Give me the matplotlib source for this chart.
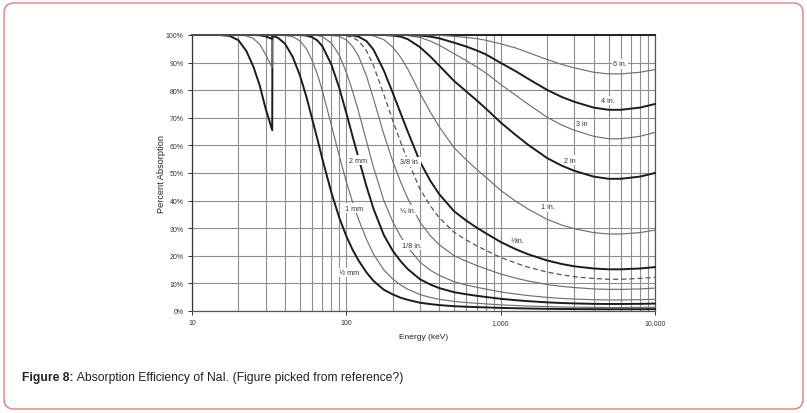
import matplotlib
matplotlib.use("Agg")
import matplotlib.pyplot as plt
from matplotlib.patches import FancyBboxPatch
from matplotlib.ticker import FixedLocator, NullFormatter

plt.rcParams['font.family'] = ['Liberation Sans', 'DejaVu Sans']

# ---------------- data ----------------
energy_kev = [10, 15, 17.5, 20, 22.5, 25, 27.5, 30, 33.1, 33.2, 36, 40, 45, 50, 55, 60,
              65, 70, 80, 90, 100, 110, 120, 135, 150, 175, 200, 225, 250, 300, 350,
              400, 500, 600, 700, 800, 1000, 1250, 1500, 2000, 2500, 3000, 4000, 5000,
              6000, 8000, 10000]

abs_half_mm = [100, 100, 99.7, 98.1, 94.2, 88.5, 81.6, 73.3, 65.5, 99.7, 99.0, 96.9, 92.0,
               85.4, 77.8, 69.7, 62.2, 55.0, 42.9, 33.8, 27.1, 22.1, 18.3, 14.0, 10.9, 7.7,
               6.0, 4.8, 4.05, 3.0, 2.5, 2.14, 1.74, 1.55, 1.41, 1.30, 1.12, 1.0, 0.9, 0.79,
               0.73, 0.70, 0.65, 0.64, 0.64, 0.65, 0.68]
abs_1mm = [100, 100, 100, 100, 99.7, 98.7, 96.6, 92.9, 88.1, 100, 100, 99.9, 99.4, 97.9,
           95.1, 90.8, 85.7, 79.7, 67.3, 56.2, 46.8, 39.3, 33.2, 26.0, 20.6, 14.9, 11.6, 9.4,
           7.9, 5.95, 4.9, 4.24, 3.46, 3.07, 2.79, 2.58, 2.23, 1.98, 1.80, 1.58, 1.46, 1.39,
           1.31, 1.28, 1.28, 1.31, 1.36]
abs_2mm = [100, 100, 100, 100, 100, 100, 99.9, 99.5, 98.6, 100, 100, 100, 100, 100, 99.8,
           99.2, 98.0, 95.9, 89.3, 80.8, 71.7, 63.1, 55.4, 45.2, 37.0, 27.5, 21.8, 18.0, 15.2,
           11.5, 9.6, 8.3, 6.8, 6.05, 5.5, 5.09, 4.42, 3.92, 3.57, 3.13, 2.89, 2.75, 2.59,
           2.54, 2.54, 2.59, 2.69]
abs_eighth_in = [100, 100, 100, 100, 100, 100, 100, 100, 99.9, 100, 100, 100, 100, 100, 100,
                 100, 99.8, 99.4, 97.1, 92.7, 86.5, 79.5, 72.3, 61.6, 52.0, 40.0, 32.3, 27.0,
                 23.1, 17.7, 14.8, 12.9, 10.6, 9.4, 8.6, 7.95, 6.9, 6.15, 5.6, 4.92, 4.55,
                 4.33, 4.09, 4.0, 4.0, 4.09, 4.24]
abs_quarter_in = [100] * 18 + [99.9, 99.5, 98.2, 95.8, 92.3, 85.2, 76.9, 64.0, 54.2, 46.7,
                               40.8, 32.2, 27.3, 24.0, 20.0, 18.0, 16.5, 15.3, 13.4, 11.9,
                               10.9, 9.6, 8.9, 8.5, 8.0, 7.84, 7.84, 8.0, 8.3]
abs_3_8_in = [100] * 20 + [99.8, 99.1, 97.9, 94.3, 88.9, 78.4, 69.0, 61.1, 54.5, 44.2, 38.1,
                           33.8, 28.5, 25.7, 23.6, 22.0, 19.4, 17.4, 15.9, 14.1, 13.1, 12.4,
                           11.8, 11.5, 11.5, 11.8, 12.2]
abs_half_in = [100] * 21 + [99.8, 99.4, 97.8, 94.7, 87.1, 79.0, 71.6, 65.0, 54.1, 47.2, 42.3,
                            36.1, 32.7, 30.2, 28.2, 25.0, 22.4, 20.6, 18.3, 17.0, 16.2, 15.4,
                            15.1, 15.1, 15.4, 15.9]
abs_1in = [100] * 24 + [99.7, 98.3, 95.6, 91.9, 87.7, 78.9, 72.1, 66.7, 59.1, 54.7, 51.3,
                        48.5, 43.7, 39.8, 37.0, 33.2, 31.1, 29.8, 28.4, 27.9, 27.9, 28.4, 29.3]
abs_2in = [100] * 26 + [99.8, 99.4, 98.5, 95.6, 92.2, 88.9, 83.3, 79.5, 76.3, 73.4, 68.3,
                        63.8, 60.3, 55.4, 52.6, 50.8, 48.7, 47.9, 47.9, 48.7, 50.0]
abs_3in = [100] * 28 + [99.8, 99.1, 97.8, 96.3, 93.2, 90.7, 88.4, 86.3, 82.1, 78.2, 75.0,
                        70.2, 67.3, 65.5, 63.3, 62.4, 62.4, 63.3, 64.7]
abs_4in = [100] * 29 + [99.8, 99.4, 98.8, 97.2, 95.8, 94.4, 93.0, 89.9, 86.9, 84.2, 80.1,
                        77.5, 75.8, 73.7, 72.9, 72.9, 73.7, 75.0]
abs_6in = [100] * 31 + [99.9, 99.5, 99.1, 98.7, 98.1, 96.8, 95.3, 93.7, 91.1, 89.3, 88.1,
                        86.5, 85.9, 85.9, 86.5, 87.5]

label_text = ["6 in.", "4 in.", "3 in", "2 in", "1 in.", "½in.", "2 mm", "3/8 in.",
              "1 mm", "¼ in.", "1/8 in.", "½ mm"]
label_energy = [5930, 4970, 3365, 2810, 2030, 1295, 119, 258, 112, 251, 266, 104]
label_pct = [89.5, 76.4, 67.8, 54.7, 37.7, 25.7, 54.7, 54.0, 37.3, 36.6, 23.9, 14.1]

y_ticks = [0, 10, 20, 30, 40, 50, 60, 70, 80, 90, 100]
x_major = [10, 100, 1000, 10000]
x_major_labels = ["10", "100", "1,000", "10,000"]
caption_bold = "Figure 8:"
caption_rest = " Absorption Efficiency of NaI. (Figure picked from reference?)"

# ---------------- figure ----------------
W, H = 807, 414
fig = plt.figure(figsize=(W / 100, H / 100), dpi=100)
fig.patch.set_facecolor('white')

# rounded red border
bg = fig.add_axes([0, 0, 1, 1])
bg.set_xlim(0, W)
bg.set_ylim(H, 0)
bg.axis('off')
bg.add_patch(FancyBboxPatch((4, 4), W - 8, H - 8,
                            boxstyle="round,pad=0,rounding_size=10",
                            facecolor='white', edgecolor='#e57d7d', lw=1.0))

ax = fig.add_axes([192 / W, 1 - 312 / H, (655 - 192) / W, (312 - 36) / H])
ax.set_xscale('log')
ax.set_xlim(10, 10000)
ax.set_ylim(0, 100)

minor = [m * d for d in (10, 100, 1000) for m in range(2, 10)]
ax.xaxis.set_major_locator(FixedLocator(x_major))
ax.xaxis.set_minor_locator(FixedLocator(minor))
ax.xaxis.set_minor_formatter(NullFormatter())
ax.set_xticklabels(x_major_labels)
ax.set_yticks(y_ticks)
ax.set_yticklabels([f"{v}%" for v in y_ticks])

grid_kw = dict(color='#8e8e8e', lw=0.8)
ax.grid(which='both', axis='x', **grid_kw)
ax.grid(which='major', axis='y', **grid_kw)
ax.set_axisbelow(True)

ax.tick_params(axis='both', which='both', labelsize=5, colors='#333333',
               length=3, width=0.7, pad=3)
ax.tick_params(axis='x', which='minor', length=0)
for s in ax.spines.values():
    s.set_color('#555555')
    s.set_linewidth(0.9)
ax.spines['top'].set_color('#222222')
ax.spines['top'].set_linewidth(1.4)
ax.spines['left'].set_color('#333333')

thick = dict(color='#1c1c1c', lw=1.4)
thin = dict(color='#707070', lw=0.85)
dashed = dict(color='#555555', lw=0.9, dashes=(4, 2.5))

series = [
    (abs_half_mm, thick), (abs_1mm, thin), (abs_2mm, thick), (abs_eighth_in, thin),
    (abs_quarter_in, thin), (abs_3_8_in, dashed), (abs_half_in, thick), (abs_1in, thin),
    (abs_2in, thick), (abs_3in, thin), (abs_4in, thick), (abs_6in, thin),
]
for vals, st in series:
    ax.plot(energy_kev, vals, solid_joinstyle='round', zorder=3, clip_on=False, **st)

for t, e, p in zip(label_text, label_energy, label_pct):
    ax.text(e, p, t, fontsize=5.2, color='#333333', ha='center', va='center', zorder=5,
            bbox=dict(facecolor='white', edgecolor='none', pad=0.8))

ax.set_ylabel("Percent Absorption", fontsize=6.6, color='#222222', labelpad=0)
ax.set_xlabel("Energy (keV)", fontsize=6, color='#222222', labelpad=5)

# caption
t1 = fig.text(22 / W, 1 - 378 / H, caption_bold, fontsize=8.7, fontweight='bold',
              color='#222222', va='center', ha='left')
fig.canvas.draw()
bb = t1.get_window_extent(renderer=fig.canvas.get_renderer())
fig.text(bb.x1 / W, 1 - 378 / H, caption_rest, fontsize=8.7, color='#222222',
         va='center', ha='left')

fig.savefig("out.png", dpi=100, facecolor='white')
